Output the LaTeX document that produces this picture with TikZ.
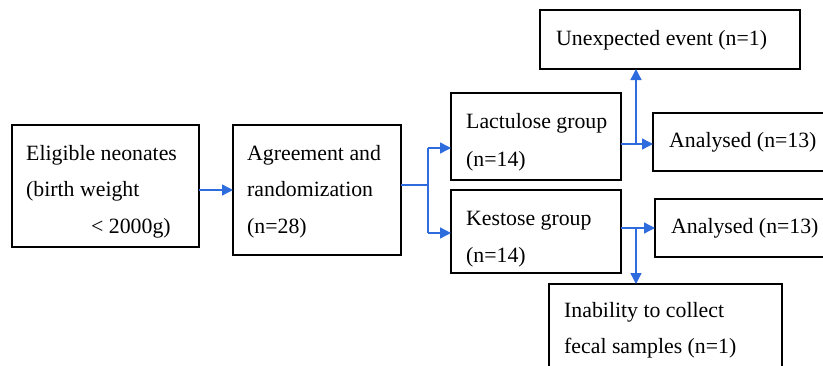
\documentclass[tikz,border=0pt]{standalone}
\usepackage{fontspec}
\setmainfont{Liberation Serif}
\usetikzlibrary{arrows.meta}
\definecolor{linkblue}{RGB}{46,108,222}
\begin{document}
\begin{tikzpicture}[x=1pt,y=-1pt,
 box/.style={draw=black, line width=1.8pt, inner sep=0pt, outer sep=0pt, anchor=north west},
 txt/.style={anchor=base west, inner sep=0pt, font=\fontsize{21.8}{26}\selectfont},
 conn/.style={draw=linkblue, line width=1.4pt},
 arr/.style={conn, -{Triangle[length=11pt,width=11pt]}}]
\useasboundingbox (0,0) rectangle (823,365);
% boxes
\node[box, minimum width=187pt, minimum height=122pt] (elig) at (12,125) {};
\node[box, minimum width=168pt, minimum height=130pt] (agree) at (233,125) {};
\node[box, minimum width=170pt, minimum height=87pt] (lac) at (451,93) {};
\node[box, minimum width=170pt, minimum height=83pt] (kes) at (451,190) {};
\node[box, minimum width=260pt, minimum height=59pt] (unexp) at (540,10) {};
\node[box, minimum width=185pt, minimum height=58pt] (ana1) at (653,113) {};
\node[box, minimum width=185pt, minimum height=58pt] (ana2) at (655,199) {};
\node[box, minimum width=233pt, minimum height=100pt] (inab) at (549,284) {};
% texts
\node[txt] (e1) at (26,160) {Eligible neonates};
\node[txt] (e2) at (26,196) {(birth weight};
\node[txt] (e3) at (91,233) {<~2000g)};
\node[txt] (a1) at (247,160) {Agreement and};
\node[txt] (a2) at (247,196) {randomization};
\node[txt] (a3) at (247,233) {(n=28)};
\node[txt] (l1) at (466,128) {Lactulose group};
\node[txt] (l2) at (466,166) {(n=14)};
\node[txt] (k1) at (466,225) {Kestose group};
\node[txt] (k2) at (466,262) {(n=14)};
\node[txt] (u1) at (556,45) {Unexpected event (n=1)};
\node[txt] (n1) at (669,147) {Analysed (n=13)};
\node[txt] (n2) at (671,233) {Analysed (n=13)};
\node[txt] (i1) at (564,317) {Inability to collect};
\node[txt] (i2) at (564,353) {fecal samples (n=1)};
% connectors
\draw[arr] (elig.east |- agree.west) -- (agree.west);
\coordinate (s) at (428,185);
\coordinate (sl) at (428,148);
\coordinate (sk) at (428,233);
\draw[conn] (agree.east |- s) -- (s);
\draw[conn] (sl) -- (sk);
\draw[arr] (sl) -- (sl -| lac.west);
\draw[arr] (sk) -- (sk -| kes.west);
\coordinate (ju) at (636,144);
\coordinate (jd) at (636,228);
\draw[arr] (lac.east |- ju) -- (ju -| ana1.west);
\draw[arr] (ju) -- (ju |- unexp.south);
\draw[arr] (kes.east |- jd) -- (jd -| ana2.west);
\draw[arr] (jd) -- (jd |- inab.north);
\end{tikzpicture}
\end{document}
